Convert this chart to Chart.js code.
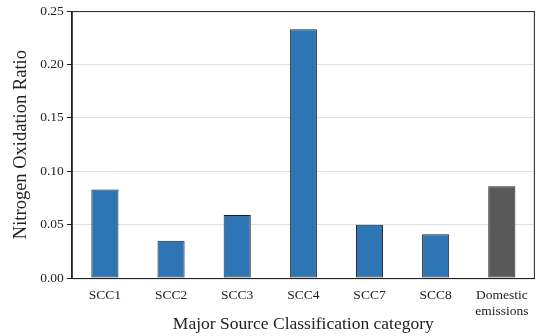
<!DOCTYPE html>
<html>
<head>
<meta charset="utf-8">
<script src="https://cdn.jsdelivr.net/npm/chart.js@4"></script>
<style>
  html, body { margin: 0; padding: 0; background: #fff; }
  #wrap { width: 538px; height: 336px; }
</style>
</head>
<body>
<div id="wrap"><canvas id="chart"></canvas></div>
<script>
const categories = ['SCC1', 'SCC2', 'SCC3', 'SCC4', 'SCC7', 'SCC8', ['Domestic', 'emissions']];
const ratios = [0.083, 0.035, 0.059, 0.233, 0.050, 0.041, 0.086];
const barColors = ['#2e75b6', '#2e75b6', '#2e75b6', '#2e75b6', '#2e75b6', '#2e75b6', '#595959'];

// draws the thin box round the plot area
const frame = {
  id: 'frame',
  afterDraw(chart) {
    const a = chart.chartArea, ctx = chart.ctx;
    ctx.save();
    ctx.strokeStyle = '#222';
    ctx.lineWidth = 1;
    ctx.strokeRect(a.left + 0.5, a.top + 0.5, a.right - a.left - 1, a.bottom - a.top);
    ctx.restore();
  }
};

const serif = "'Liberation Serif', 'Times New Roman', serif";

new Chart(document.getElementById('chart'), {
  type: 'bar',
  data: {
    labels: categories,
    datasets: [{
      data: ratios,
      backgroundColor: barColors,
      borderColor: '#1f1f1f',
      borderWidth: 1,
      borderSkipped: false,
      categoryPercentage: 1,
      barPercentage: 0.41
    }]
  },
  options: {
    responsive: true,
    maintainAspectRatio: false,
    animation: false,
    layout: { padding: { top: 10, right: 1, left: 10, bottom: 3 } },
    plugins: { legend: { display: false }, tooltip: { enabled: false } },
    scales: {
      x: {
        grid: { display: false, drawTicks: false },
        border: { color: '#222' },
        ticks: { color: '#222', font: { family: serif, size: 13.5, lineHeight: 1.2 }, padding: 9.5, maxRotation: 0 },
        title: { display: true, text: 'Major Source Classification category', color: '#222',
                 font: { family: serif, size: 17.5, lineHeight: 1.0 }, padding: { top: 5, bottom: 0 } },
        // the label block comes out taller than needed; pull the plot down
        afterFit: axis => { axis.height -= 19; }
      },
      y: {
        min: 0,
        max: 0.25,
        grid: { color: '#e0e0e0', tickColor: '#222', tickLength: 5 },
        border: { color: '#222' },
        ticks: { stepSize: 0.05, color: '#222', font: { family: serif, size: 13.5 }, padding: 3,
                 callback: v => v.toFixed(2) },
        title: { display: true, text: 'Nitrogen Oxidation Ratio', color: '#222',
                 font: { family: serif, size: 18.5 }, padding: { top: 0, bottom: 5 } }
      }
    }
  },
  plugins: [frame]
});
</script>
</body>
</html>
